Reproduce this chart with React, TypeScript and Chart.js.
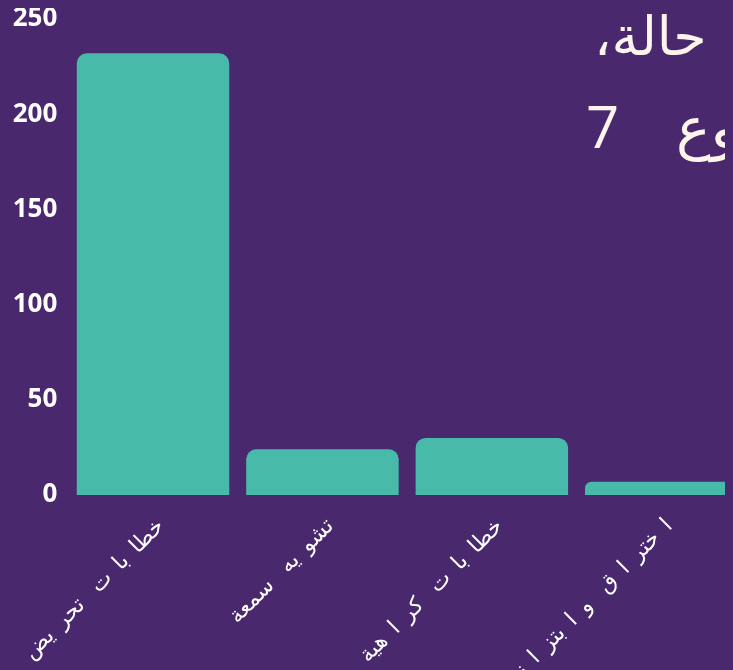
import React, { useEffect, useRef } from "react";
import { Chart, registerables } from "chart.js";

Chart.register(...registerables);

const categories: string[] = ["خطابات تحريض", "تشويه سمعة", "خطابات كراهية", "اختراق وابتزاز"];
const caseCounts: number[] = [232, 24, 30, 7];
const yTicks: number[] = [0, 50, 100, 150, 200, 250];
const titleLine1 = "حالة،";
const titleNumber = "7";
const titleWord = "نوع";

const BG = "#4a286e";
const BAR = "#47baa9";
const TITLE = "#fdf4ec";
const LABEL_GAP = 11;
const NON_JOINING = new Set(["ا", "أ", "إ", "آ", "د", "ذ", "ر", "ز", "و", "ؤ", "ة", "ء", " "]);

function segmentsOf(label: string): string[] {
  const out: string[] = [];
  let cur = "";
  for (const ch of label) {
    if (ch === " ") {
      cur += ch;
      continue;
    }
    if (cur.endsWith(" ")) {
      out.push(cur);
      cur = "";
    }
    cur += ch;
    if (NON_JOINING.has(ch)) {
      out.push(cur);
      cur = "";
    }
  }
  if (cur) out.push(cur);
  const merged: string[] = [];
  for (const s of out) {
    if (s.trim() === "" && merged.length) merged[merged.length - 1] += s;
    else merged.push(s);
  }
  return merged;
}

const overlayPlugin = {
  id: "overlayText",
  afterDraw(chart: any) {
    const ctx = chart.ctx as CanvasRenderingContext2D;
    const sx = chart.scales.x;
    ctx.save();
    ctx.fillStyle = "#ffffff";
    ctx.font = '22px "DejaVu Sans", sans-serif';
    ctx.textBaseline = "middle";
    ctx.direction = "rtl";
    ctx.textAlign = "right";
    categories.forEach((lab, i) => {
      const x = sx.getPixelForTick(i) + 8;
      const y = sx.top + 28;
      ctx.save();
      ctx.translate(x, y);
      ctx.rotate(-Math.PI / 4);
      let cur = 0;
      for (const seg of segmentsOf(lab)) {
        ctx.fillText(seg, cur, 0);
        cur -= ctx.measureText(seg).width + LABEL_GAP;
      }
      ctx.restore();
    });
    ctx.restore();

    ctx.save();
    ctx.fillStyle = TITLE;
    ctx.textBaseline = "alphabetic";
    ctx.font = '54px "Open Sans", "DejaVu Sans", sans-serif';
    ctx.direction = "rtl";
    ctx.textAlign = "left";
    ctx.fillText(titleLine1, 586, 47);
    ctx.font = '58px "Open Sans", "DejaVu Sans", sans-serif';
    ctx.direction = "ltr";
    ctx.textAlign = "left";
    ctx.fillText(titleNumber, 578, 140);
    ctx.fillText(titleWord, 668, 140);
    ctx.restore();
  },
};

export default function App() {
  const ref = useRef<HTMLCanvasElement | null>(null);
  useEffect(() => {
    document.body.style.background = BG;
    const c = ref.current!;
    const chart = new Chart(c, {
      type: "bar",
      data: {
        labels: categories,
        datasets: [
          {
            data: caseCounts,
            backgroundColor: BAR,
            borderRadius: 10,
            borderSkipped: "start",
            barPercentage: 0.9,
            categoryPercentage: 1.0,
          },
        ],
      },
      options: {
        responsive: false,
        maintainAspectRatio: false,
        animation: false,
        devicePixelRatio: 1,
        layout: { padding: 0 },
        plugins: { legend: { display: false }, tooltip: { enabled: false }, title: { display: false } },
        scales: {
          x: {
            grid: { display: false },
            border: { display: false },
            ticks: { display: false },
            afterFit: (axis: any) => {
              axis.height = 175;
              axis.paddingLeft = 0;
              axis.paddingRight = 0;
              axis.paddingTop = 0;
              axis.paddingBottom = 0;
            },
          },
          y: {
            min: yTicks[0],
            max: yTicks[yTicks.length - 1],
            grid: { display: false, drawTicks: false },
            border: { display: false },
            afterBuildTicks: (axis: any) => {
              axis.ticks = yTicks.map((v) => ({ value: v }));
            },
            afterFit: (axis: any) => {
              axis.width = 60.3;
              axis.paddingTop = 11;
              axis.paddingBottom = 0;
            },
            ticks: {
              color: "#ffffff",
              font: { family: '"Open Sans", sans-serif', size: 26, weight: "bold" },
              padding: 11,
            },
          },
        },
      },
      plugins: [overlayPlugin],
    });
    return () => chart.destroy();
  }, []);
  return (
    <div style={{ width: 725, height: 662, overflow: "hidden", position: "relative" }}>
      <canvas ref={ref} width={738} height={662} style={{ display: "block" }} />
    </div>
  );
}
